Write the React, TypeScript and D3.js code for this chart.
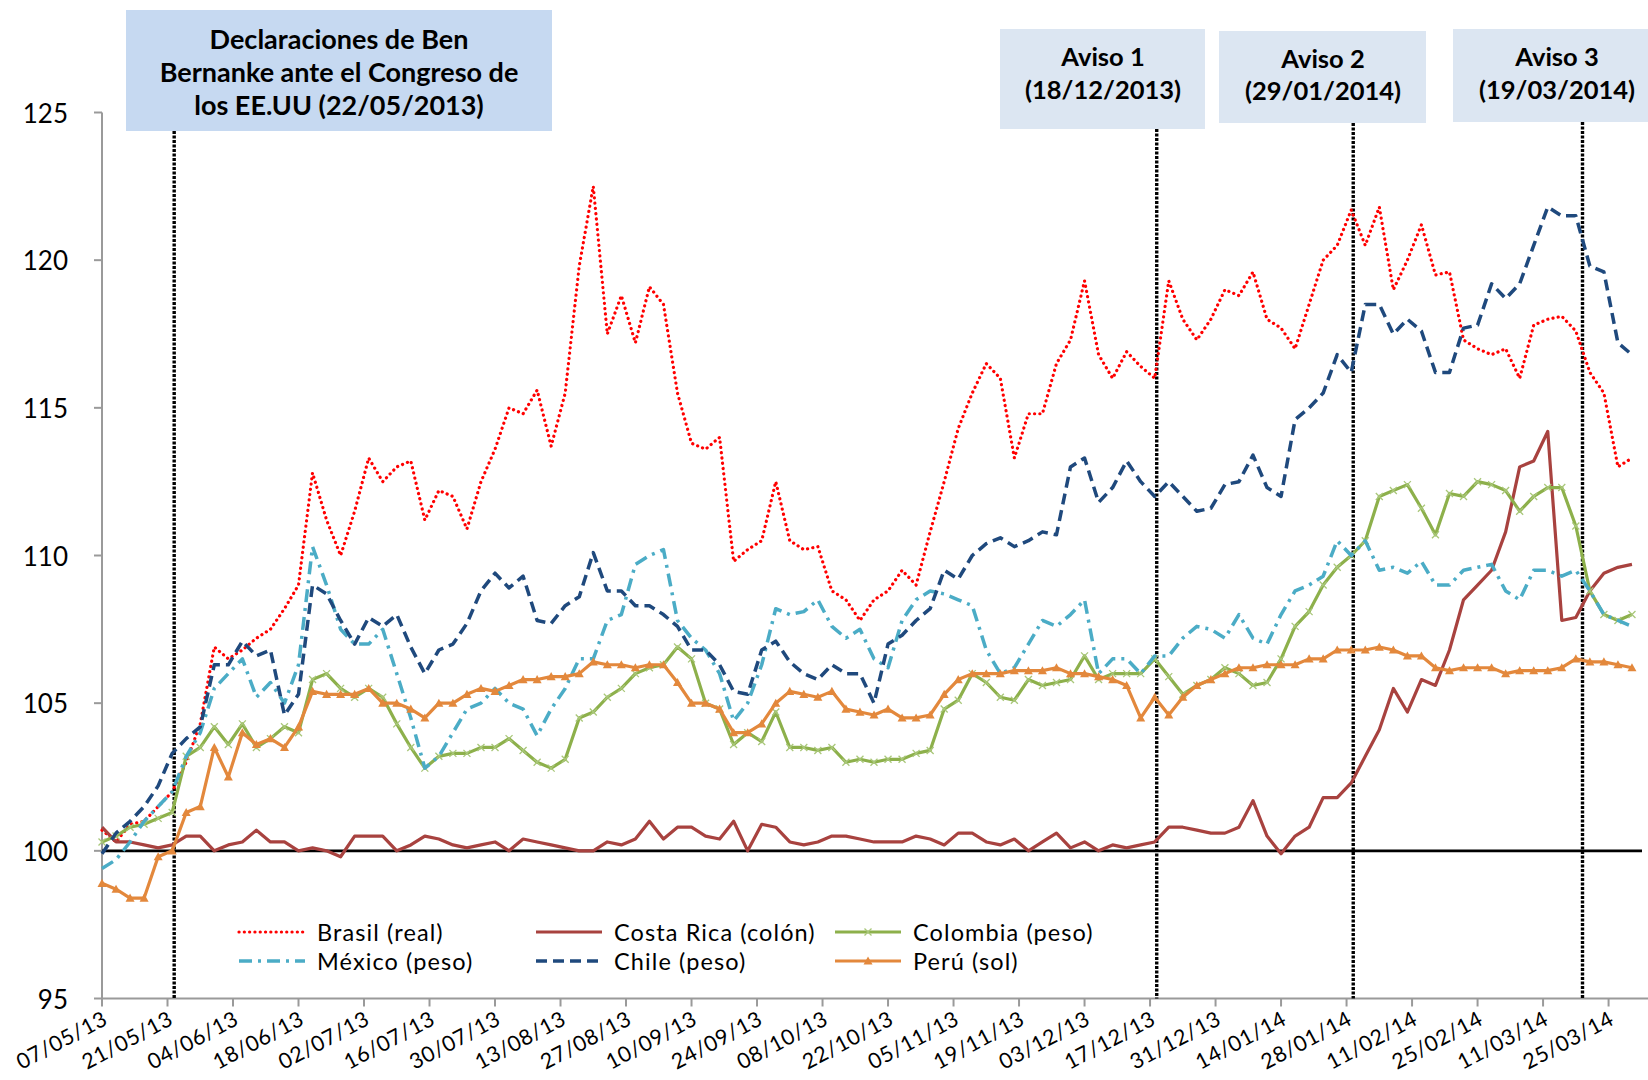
import React from 'react';
import * as d3 from 'd3';

// ---------- DATA ----------
const START = new Date(2013, 4, 7);
const END = new Date(2014, 3, 2);
// observations every 3 days starting 07/05/2013
const dates: Date[] = d3.range(110).map((i) => d3.timeDay.offset(START, 3 * i));
const tickDates: Date[] = d3.range(24).map((k) => d3.timeDay.offset(START, 14 * k));
const yTicks = [95, 100, 105, 110, 115, 120, 125];

const brasil = [100.7,100.3,100.9,101.0,101.5,102.0,103.0,104.3,106.9,106.5,
106.8,107.2,107.5,108.2,109.0,112.8,111.2,110.0,111.5,113.3,
112.5,113.0,113.2,111.2,112.2,112.0,110.9,112.5,113.6,115.0,
114.8,115.6,113.7,115.5,119.8,122.5,117.5,118.8,117.2,119.1,
118.5,115.5,113.8,113.6,114.0,109.8,110.2,110.5,112.5,110.5,
110.2,110.3,108.8,108.5,107.8,108.5,108.8,109.5,109.0,110.8,
112.5,114.3,115.5,116.5,116.0,113.3,114.8,114.8,116.5,117.3,
119.3,116.8,116.0,116.9,116.4,116.0,119.3,118.0,117.3,118.0,
119.0,118.8,119.6,118.0,117.7,117.0,118.5,120.0,120.5,121.7,
120.5,121.8,119.0,120.0,121.2,119.5,119.6,117.3,117.0,116.8,
117.0,116.0,117.8,118.0,118.1,117.6,116.2,115.5,113.0,113.3];

const costaRica = [100.8,100.3,100.3,100.2,100.1,100.2,100.5,100.5,100.0,100.2,
100.3,100.7,100.3,100.3,100.0,100.1,100.0,99.8,100.5,100.5,
100.5,100.0,100.2,100.5,100.4,100.2,100.1,100.2,100.3,100.0,
100.4,100.3,100.2,100.1,100.0,100.0,100.3,100.2,100.4,101.0,
100.4,100.8,100.8,100.5,100.4,101.0,100.0,100.9,100.8,100.3,
100.2,100.3,100.5,100.5,100.4,100.3,100.3,100.3,100.5,100.4,
100.2,100.6,100.6,100.3,100.2,100.4,100.0,100.3,100.6,100.1,
100.3,100.0,100.2,100.1,100.2,100.3,100.8,100.8,100.7,100.6,
100.6,100.8,101.7,100.5,99.9,100.5,100.8,101.8,101.8,102.3,
103.2,104.1,105.5,104.7,105.8,105.6,106.8,108.5,109.0,109.5,
110.8,113.0,113.2,114.2,107.8,107.9,108.8,109.4,109.6,109.7];

const colombia = [100.3,100.5,100.8,100.9,101.1,101.3,103.2,103.5,104.2,103.6,
104.3,103.5,103.8,104.2,104.0,105.8,106.0,105.5,105.2,105.5,
105.2,104.3,103.5,102.8,103.2,103.3,103.3,103.5,103.5,103.8,
103.4,103.0,102.8,103.1,104.5,104.7,105.2,105.5,106.0,106.2,
106.3,106.9,106.5,105.0,104.8,103.6,104.0,103.7,104.7,103.5,
103.5,103.4,103.5,103.0,103.1,103.0,103.1,103.1,103.3,103.4,
104.8,105.1,106.0,105.7,105.2,105.1,105.8,105.6,105.7,105.8,
106.6,105.8,106.0,106.0,106.0,106.5,105.9,105.3,105.6,105.8,
106.2,106.0,105.6,105.7,106.5,107.6,108.1,109.0,109.6,110.0,
110.5,112.0,112.2,112.4,111.6,110.7,112.1,112.0,112.5,112.4,
112.2,111.5,112.0,112.3,112.3,111.0,108.8,108.0,107.8,108.0];

const mexico = [99.4,99.7,100.3,101.0,101.5,102.0,103.2,104.0,105.5,106.0,
106.5,105.2,105.7,105.0,106.3,110.3,109.0,107.5,107.0,107.0,
107.5,106.0,104.5,102.8,103.2,104.0,104.8,105.0,105.5,105.0,
104.8,103.9,104.8,105.5,106.5,106.5,107.8,108.0,109.7,110.0,
110.2,107.8,107.2,106.8,106.0,104.4,105.0,106.3,108.2,108.0,
108.1,108.5,107.6,107.2,107.5,106.5,106.2,107.8,108.5,108.8,
108.7,108.5,108.3,106.8,106.0,106.2,107.0,107.8,107.6,108.0,
108.5,106.0,106.5,106.5,106.0,106.6,106.6,107.2,107.6,107.5,
107.2,108.0,107.2,107.0,108.0,108.8,109.0,109.3,110.5,110.0,
110.5,109.5,109.6,109.4,109.8,109.0,109.0,109.5,109.6,109.7,
108.8,108.5,109.5,109.5,109.3,109.5,108.8,108.0,107.8,107.6];

const chile = [99.9,100.6,101.0,101.5,102.2,103.3,103.8,104.2,106.3,106.3,
107.1,106.6,106.8,104.6,105.3,109.0,108.7,107.8,107.0,107.9,
107.6,108.0,106.9,106.0,106.8,107.0,107.7,108.8,109.4,108.9,
109.3,107.8,107.7,108.3,108.6,110.1,108.8,108.8,108.3,108.3,
108.0,107.6,106.8,106.8,106.3,105.4,105.3,106.8,107.1,106.4,
106.0,105.8,106.3,106.0,106.0,105.0,107.0,107.3,107.8,108.2,
109.5,109.2,110.0,110.4,110.6,110.3,110.5,110.8,110.7,113.0,
113.3,111.8,112.3,113.2,112.5,112.0,112.5,112.0,111.5,111.6,
112.4,112.5,113.4,112.3,112.0,114.6,115.0,115.5,116.8,116.2,
118.5,118.5,117.5,118.0,117.6,116.2,116.2,117.7,117.8,119.2,
118.7,119.2,120.5,121.8,121.5,121.5,119.8,119.6,117.2,116.8];

const peru = [98.9,98.7,98.4,98.4,99.8,100.0,101.3,101.5,103.5,102.5,
104.0,103.6,103.8,103.5,104.2,105.4,105.3,105.3,105.3,105.5,
105.0,105.0,104.8,104.5,105.0,105.0,105.3,105.5,105.4,105.6,
105.8,105.8,105.9,105.9,106.0,106.4,106.3,106.3,106.2,106.3,
106.3,105.7,105.0,105.0,104.8,104.0,104.0,104.3,105.0,105.4,
105.3,105.2,105.4,104.8,104.7,104.6,104.8,104.5,104.5,104.6,
105.3,105.8,106.0,106.0,106.0,106.1,106.1,106.1,106.2,106.0,
106.0,105.9,105.8,105.6,104.5,105.2,104.6,105.2,105.6,105.8,
106.0,106.2,106.2,106.3,106.3,106.3,106.5,106.5,106.8,106.8,
106.8,106.9,106.8,106.6,106.6,106.2,106.1,106.2,106.2,106.2,
106.0,106.1,106.1,106.1,106.2,106.5,106.4,106.4,106.3,106.2];

const eventDates = [new Date(2013, 4, 22), new Date(2013, 11, 18), new Date(2014, 0, 29), new Date(2014, 2, 19)];
const eventTexts = [
  ['Declaraciones de Ben', 'Bernanke ante el Congreso de', 'los EE.UU (22/05/2013)'],
  ['Aviso 1', '(18/12/2013)'],
  ['Aviso 2', '(29/01/2014)'],
  ['Aviso 3', '(19/03/2014)'],
];

// ---------- STYLES / LAYOUT ----------
const FONT = 'Lato, "Open Sans", sans-serif';
const seriesDefs = [
  { name: 'Brasil (real)', values: brasil, color: '#FF0000', width: 3.2, dash: '0.1 5.2', cap: 'round', marker: '' },
  { name: 'Costa Rica (colón)', values: costaRica, color: '#A8423F', width: 3.2, dash: '', cap: 'butt', marker: '' },
  { name: 'Colombia (peso)', values: colombia, color: '#8DB04B', width: 3.2, dash: '', cap: 'butt', marker: 'x' },
  { name: 'México (peso)', values: mexico, color: '#4BACC6', width: 3.5, dash: '13 6 3 6', cap: 'butt', marker: '' },
  { name: 'Chile (peso)', values: chile, color: '#1F497D', width: 3.5, dash: '11 6', cap: 'butt', marker: '' },
  { name: 'Perú (sol)', values: peru, color: '#E3883C', width: 3.2, dash: '', cap: 'butt', marker: 'tri' },
];
const legendPos = [
  { x: 239, y: 932 }, { x: 536, y: 932 }, { x: 835, y: 932 },
  { x: 239, y: 961 }, { x: 536, y: 961 }, { x: 835, y: 961 },
];
const boxes = [
  { x: 126, y: 10, w: 426, h: 121, fill: '#C6D9F1', tx: 339, ty: [38, 71, 104], fs: 27 },
  { x: 1000, y: 29, w: 205, h: 100, fill: '#DCE6F2', tx: 1103, ty: [56, 89], fs: 25.5 },
  { x: 1219, y: 31, w: 207, h: 92, fill: '#DCE6F2', tx: 1323, ty: [58, 90], fs: 25.5 },
  { x: 1453, y: 29, w: 200, h: 93, fill: '#DCE6F2', tx: 1557, ty: [56, 89], fs: 25.5 },
];

function Marker({ type, cx, cy, color }: { type: string; cx: number; cy: number; color: string }) {
  if (type === 'x') {
    const s = 3.5;
    return (
      <path d={`M${cx - s},${cy - s}L${cx + s},${cy + s}M${cx - s},${cy + s}L${cx + s},${cy - s}`}
        stroke="#A9C77A" strokeWidth={1.3} fill="none" />
    );
  }
  if (type === 'tri') {
    const s = 4.5;
    return <path d={`M${cx},${cy - s}L${cx + s},${cy + s * 0.8}L${cx - s},${cy + s * 0.8}Z`} fill={color} />;
  }
  return null;
}

export default function App() {
  const x = d3.scaleTime().domain([START, END]).range([102, 1646]);
  const y = d3.scaleLinear().domain([95, 125]).range([998.5, 112.5]);
  const fmt = d3.timeFormat('%d/%m/%y');
  const line = d3.line<number>().x((_, i) => x(dates[i])).y((d) => y(d));
  const x0 = x.range()[0];
  const yBase = y(95);

  return (
    <svg width={1648} height={1080} style={{ position: 'absolute', left: 0, top: 0, background: '#fff' }}
      fontFamily={FONT}>
      <rect x={0} y={0} width={1648} height={1080} fill="#fff" />
      {/* axes */}
      <line x1={x0} x2={x0} y1={y(125)} y2={yBase} stroke="#9A9A9A" strokeWidth={2} />
      <line x1={x0} x2={1648} y1={yBase} y2={yBase} stroke="#9A9A9A" strokeWidth={2} />
      {yTicks.map((t) => (
        <g key={t}>
          <line x1={x0 - 8} x2={x0} y1={y(t)} y2={y(t)} stroke="#9A9A9A" strokeWidth={2} />
          <text x={68} y={y(t)} textAnchor="end" dominantBaseline="central" fontSize={26} fill="#000">{t}</text>
        </g>
      ))}
      {tickDates.map((d, i) => (
        <g key={i}>
          <line x1={x(d)} x2={x(d)} y1={yBase} y2={yBase + 8} stroke="#9A9A9A" strokeWidth={2} />
          <text transform={`translate(${x(d) + 7},${yBase + 25}) rotate(-28)`} textAnchor="end"
            fontSize={21.5} fill="#000" letterSpacing={0.6}>{fmt(d)}</text>
        </g>
      ))}
      {/* baseline 100 */}
      <line x1={x0} x2={1642} y1={y(100)} y2={y(100)} stroke="#000" strokeWidth={2.6} />
      {/* event lines */}
      {eventDates.map((d, i) => (
        <line key={i} x1={x(d) + 2} x2={x(d) + 2} y1={boxes[i].y + boxes[i].h} y2={yBase}
          stroke="#000" strokeWidth={3.4} strokeDasharray="3 1.5" />
      ))}
      {/* series */}
      {seriesDefs.map((s) => (
        <g key={s.name}>
          <path d={line(s.values) || ''} fill="none" stroke={s.color} strokeWidth={s.width}
            strokeDasharray={s.dash || undefined} strokeLinecap={s.cap as any} strokeLinejoin="round" />
          {s.marker && s.values.map((v, i) => (
            <Marker key={i} type={s.marker} cx={x(dates[i])} cy={y(v)} color={s.color} />
          ))}
        </g>
      ))}
      {/* boxes */}
      {boxes.map((b, i) => (
        <g key={i}>
          <rect x={b.x} y={b.y} width={b.w} height={b.h} fill={b.fill} />
          {eventTexts[i].map((t, j) => (
            <text key={j} x={b.tx} y={b.ty[j]} textAnchor="middle" dominantBaseline="central"
              fontSize={b.fs} fontWeight="bold" fill="#000">{t}</text>
          ))}
        </g>
      ))}
      {/* legend */}
      {seriesDefs.map((s, i) => {
        const p = legendPos[i];
        return (
          <g key={s.name}>
            <line x1={p.x} x2={p.x + 66} y1={p.y} y2={p.y} stroke={s.color} strokeWidth={s.width}
              strokeDasharray={s.dash || undefined} strokeLinecap={s.cap as any} />
            {s.marker && <Marker type={s.marker} cx={p.x + 33} cy={p.y} color={s.color} />}
            <text x={p.x + 78} y={p.y} dominantBaseline="central" fontSize={23.5} letterSpacing={1.1} fill="#000">{s.name}</text>
          </g>
        );
      })}
    </svg>
  );
}
